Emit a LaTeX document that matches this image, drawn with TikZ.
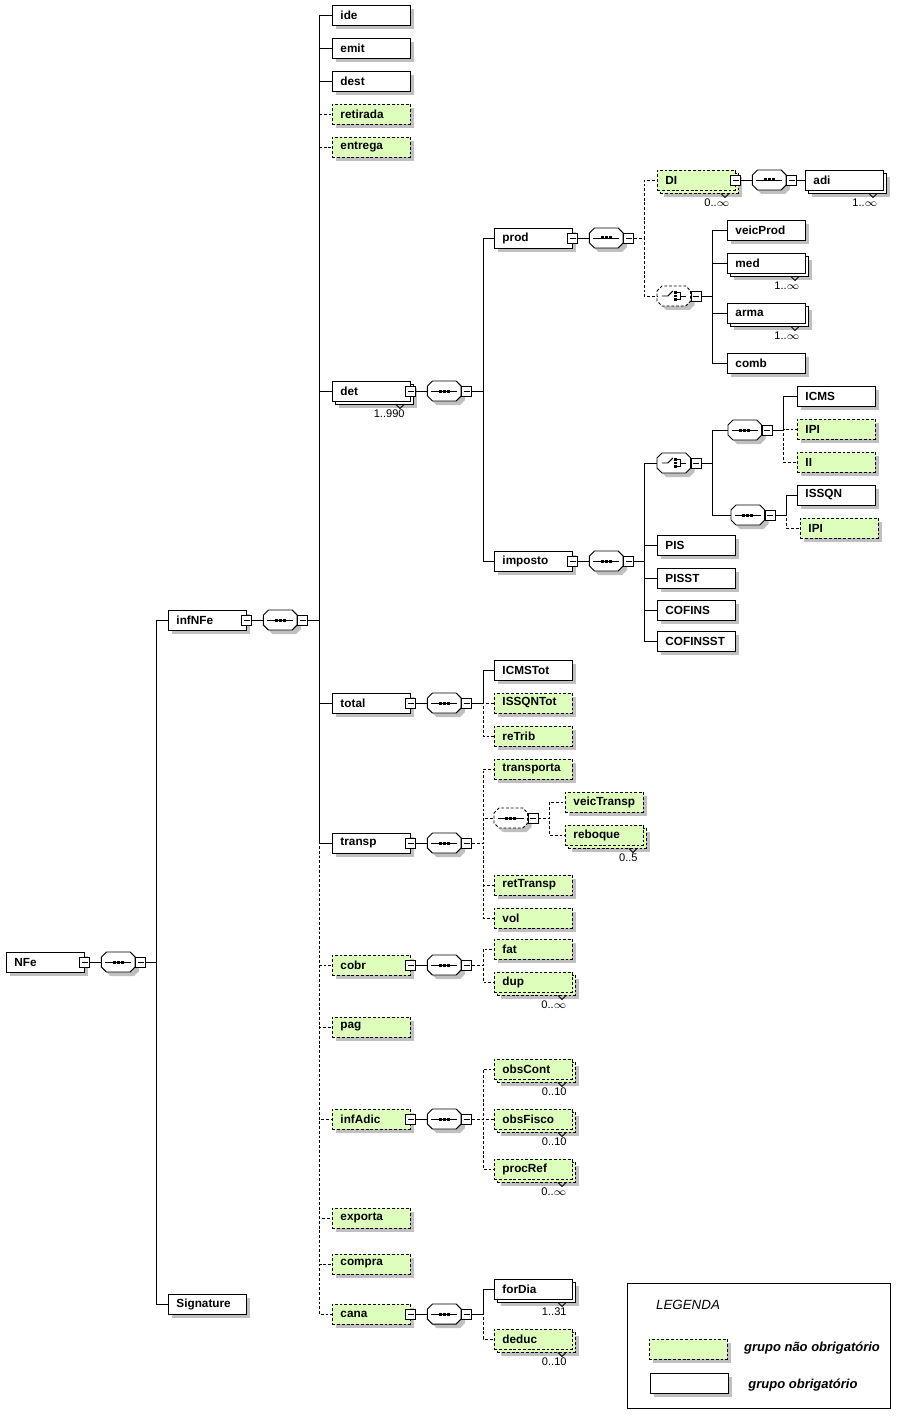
\documentclass[tikz,border=0pt]{standalone}
\usepackage{fontspec}
\setmainfont{Liberation Sans}
\usetikzlibrary{positioning,shadows}

\definecolor{optgreen}{RGB}{221,255,187}
\definecolor{shadowgray}{RGB}{192,192,192}

\tikzset{
	link/.style={line width=0.55pt},
	optdash/.style={dash pattern=on 1.6pt off 1.1pt},
	optlink/.style={link, optdash},
	boxbase/.style={rectangle, draw, line width=0.55pt, anchor=west,
		minimum height=0.4cm, text width=1.24cm, inner xsep=0.16cm, inner ysep=0pt,
		align=left, font=\bfseries\fontsize{6.7}{8}\selectfont},
	boxshadow/.style={drop shadow={shadow xshift=0.08cm, shadow yshift=-0.08cm,
		fill=shadowgray, draw=none, opacity=1}},
	multishadow/.style={drop shadow={shadow xshift=0.14cm, shadow yshift=-0.14cm,
		fill=shadowgray, draw=none, opacity=1}},
	elem/.style={boxbase, fill=white, boxshadow},
	optelem/.style={boxbase, optdash, fill=optgreen, boxshadow},
	multi/.style={boxbase, fill=white, multishadow,
		copy shadow={shadow xshift=0.06cm, shadow yshift=-0.06cm, draw=black, fill=white, solid}},
	optmulti/.style={boxbase, optdash, fill=optgreen, multishadow,
		copy shadow={shadow xshift=0.06cm, shadow yshift=-0.06cm, draw=black, fill=optgreen, optdash}},
	seqbox/.style={rectangle, anchor=west, minimum width=0.66cm, minimum height=0.4cm, inner sep=0pt},
	minusbox/.style={rectangle, draw, fill=white, line width=0.55pt, solid,
		minimum size=0.2cm, inner sep=0pt,
		path picture={\draw[black, solid] ([xshift=0.04cm]path picture bounding box.west)
			-- ([xshift=-0.04cm]path picture bounding box.east);}},
	card/.style={inner sep=0pt, font=\fontsize{6.3}{7}\selectfont},
	lgtext/.style={font=\bfseries\itshape\fontsize{7.4}{9}\selectfont}
}

% octagon round a sequence/choice node, shifted by (#2,#3)
\newcommand\octpath[3]{([shift={(#2,#3-5)}]#1.west) -- ([shift={(#2+5,#3-10)}]#1.west)
	-- ([shift={(#2-5,#3-10)}]#1.east) -- ([shift={(#2,#3-5)}]#1.east)
	-- ([shift={(#2,#3+5)}]#1.east) -- ([shift={(#2-5,#3+10)}]#1.east)
	-- ([shift={(#2+5,#3+10)}]#1.west) -- ([shift={(#2,#3+5)}]#1.west) -- cycle}
\newcommand\seqsym[2]{%
	\fill[shadowgray] \octpath{#1}{4}{4};
	\filldraw[#2, fill=white] \octpath{#1}{0}{0};
	\draw[link] ([shift={(4,0)}]#1.west) -- ([shift={(-4,0)}]#1.east);
	\foreach \d in {-4,0,4}
		\fill ([shift={(\d-1.5,-1.5)}]#1.center) rectangle ++(3,3);}
\newcommand\choicesym[2]{%
	\fill[shadowgray] \octpath{#1}{4}{4};
	\filldraw[#2, fill=white] \octpath{#1}{0}{0};
	\draw[link] ([shift={(-12,0)}]#1.center) -- ++(6,0) -- ++(5,-5);
	\foreach \d in {-3.3,0,3.3}
		\fill ([shift={(0.2,\d-1.4)}]#1.center) rectangle ++(2.8,2.8);
	\draw[link] ([shift={(3,-3.3)}]#1.center) -- ++(4,0) -- ++(0,6.6) -- ++(-4,0);
	\draw[link] ([shift={(7,0)}]#1.center) -- ++(5,0);}

\begin{document}
\begin{tikzpicture}[x=0.02cm, y=-0.02cm]
	\useasboundingbox (0,0) rectangle (905,1422);

	% root and first level
	\node[elem] (NFe) at (6,962) {NFe};
	\node[elem] (infNFe) at (168,620) {infNFe};
	\node[elem] (Signature) at (168,1304) {Signature};

	% children of infNFe
	\node[elem] (ide) at (332,15) {ide};
	\node[elem] (emit) at (332,48) {emit};
	\node[elem] (dest) at (332,81) {dest};
	\node[optelem] (retirada) at (332,114) {retirada};
	\node[optelem] (entrega) at (332,147) {entrega};
	\node[multi] (det) at (332,391) {det};
	\node[elem] (total) at (332,703) {total};
	\node[elem] (transp) at (332,843) {transp};
	\node[optelem] (cobr) at (332,965) {cobr};
	\node[optelem] (pag) at (332,1027) {pag};
	\node[optelem] (infAdic) at (332,1119) {infAdic};
	\node[optelem] (exporta) at (332,1218) {exporta};
	\node[optelem] (compra) at (332,1264) {compra};
	\node[optelem] (cana) at (332,1314) {cana};

	% third level
	\node[elem] (prod) at (494,238) {prod};
	\node[elem] (imposto) at (494,561) {imposto};
	\node[elem] (ICMSTot) at (494,670) {ICMSTot};
	\node[optelem] (ISSQNTot) at (494,703) {ISSQNTot};
	\node[optelem] (reTrib) at (494,736) {reTrib};
	\node[optelem] (transporta) at (494,769) {transporta};
	\node[seqbox] (sVeic) at (494,818) {};
	\node[optelem] (retTransp) at (494,885) {retTransp};
	\node[optelem] (vol) at (494,918) {vol};
	\node[optelem] (fat) at (494,949) {fat};
	\node[optmulti] (dup) at (494,982) {dup};
	\node[optmulti] (obsCont) at (494,1069) {obsCont};
	\node[optmulti] (obsFisco) at (494,1119) {obsFisco};
	\node[optmulti] (procRef) at (494,1169) {procRef};
	\node[multi] (forDia) at (494,1289) {forDia};
	\node[optmulti] (deduc) at (494,1339) {deduc};
	\node[optelem] (veicTransp) at (565,802) {veicTransp};
	\node[optmulti] (reboque) at (565,835) {reboque};

	% prod and imposto branches
	\node[optmulti] (DI) at (657,180) {DI};
	\node[multi] (adi) at (805,180) {adi};
	\node[seqbox] (cProd) at (657,296) {};
	\node[elem] (veicProd) at (727,230) {veicProd};
	\node[multi] (med) at (727,263) {med};
	\node[multi] (arma) at (727,313) {arma};
	\node[elem] (comb) at (727,363) {comb};
	\node[seqbox] (cImp) at (657,463) {};
	\node[elem] (PIS) at (657,545) {PIS};
	\node[elem] (PISST) at (657,578) {PISST};
	\node[elem] (COFINS) at (657,610) {COFINS};
	\node[elem] (COFINSST) at (657,641) {COFINSST};
	\node[seqbox] (sICMS) at (728,430) {};
	\node[seqbox] (sISS) at (731,515) {};
	\node[elem] (ICMS) at (797,396) {ICMS};
	\node[optelem] (IPI) at (797,429) {IPI};
	\node[optelem] (II) at (797,462) {II};
	\node[elem] (ISSQN) at (797,495) {ISSQN};
	\node[optelem] (IPIb) at (800,528) {IPI};

	% minus boxes and sequences after the groups
	\foreach \g in {NFe,infNFe,det,total,transp,cobr,infAdic,cana,prod,imposto,DI} {
		\node[minusbox] (m\g) at (\g.east) {};
		\node[seqbox, right=0.22cm of m\g] (s\g) {};
		\seqsym{s\g}{link}
		\node[minusbox, anchor=west] (t\g) at (s\g.east) {};
		\draw[link] (m\g.east) -- (s\g.west);
	}
	\seqsym{sVeic}{optlink}
	\choicesym{cProd}{optlink}
	\choicesym{cImp}{link}
	\seqsym{sICMS}{link}
	\seqsym{sISS}{link}
	\foreach \g in {sVeic,cProd,cImp,sICMS,sISS}
		\node[minusbox, anchor=west] (t\g) at (\g.east) {};

	% connectors
	\foreach \c in {infNFe,Signature}
		\draw[link] (tNFe.east) -- ++(10,0) |- (\c.west);
	\foreach \c in {ide,emit,dest,det,total,transp}
		\draw[link] (tinfNFe.east) -- ++(11,0) |- (\c.west);
	\foreach \c in {retirada,entrega,cobr,pag,infAdic,exporta,compra,cana}
		\draw[optlink] (tinfNFe.east) -- ++(11,0) |- (\c.west);
	\foreach \c in {prod,imposto}
		\draw[link] (tdet.east) -- ++(11,0) |- (\c.west);
	\foreach \c in {DI,cProd}
		\draw[optlink] (tprod.east) -- ++(10,0) |- (\c.west);
	\draw[link] (tDI.east) -- (adi.west);
	\foreach \c in {veicProd,med,arma,comb}
		\draw[link] (tcProd.east) -- ++(11,0) |- (\c.west);
	\foreach \c in {cImp,PIS,PISST,COFINS,COFINSST}
		\draw[link] (timposto.east) -- ++(10,0) |- (\c.west);
	\foreach \c in {sICMS,sISS}
		\draw[link] (tcImp.east) -- ++(11,0) |- (\c.west);
	\draw[link] (tsICMS.east) -- ++(11,0) |- (ICMS.west);
	\foreach \c in {IPI,II}
		\draw[optlink] (tsICMS.east) -- ++(11,0) |- (\c.west);
	\draw[link] (tsISS.east) -- ++(11,0) |- (ISSQN.west);
	\draw[optlink] (tsISS.east) -- ++(11,0) |- (IPIb.west);
	\draw[link] (ttotal.east) -- ++(11,0) |- (ICMSTot.west);
	\foreach \c in {ISSQNTot,reTrib}
		\draw[optlink] (ttotal.east) -- ++(11,0) |- (\c.west);
	\foreach \c in {transporta,sVeic,retTransp,vol}
		\draw[optlink] (ttransp.east) -- ++(11,0) |- (\c.west);
	\foreach \c in {veicTransp,reboque}
		\draw[optlink] (tsVeic.east) -- ++(11,0) |- (\c.west);
	\foreach \c in {fat,dup}
		\draw[optlink] (tcobr.east) -- ++(11,0) |- (\c.west);
	\foreach \c in {obsCont,obsFisco,procRef}
		\draw[optlink] (tinfAdic.east) -- ++(11,0) |- (\c.west);
	\draw[link] (tcana.east) -- ++(11,0) |- (forDia.west);
	\draw[optlink] (tcana.east) -- ++(11,0) |- (deduc.west);

	% occurrence notches and labels
	\foreach \n/\c in {det/1..990, DI/0..$\infty$, adi/1..$\infty$, med/1..$\infty$,
			arma/1..$\infty$, reboque/0..5, dup/0..$\infty$, obsCont/0..10,
			obsFisco/0..10, procRef/0..$\infty$, forDia/1..31, deduc/0..10} {
		\draw[link] ([shift={(-15,3)}]\n.south east) -- ++(4,4) -- ++(4,-4);
		\node[card, anchor=north east] (k\n) at ([shift={(-6,8)}]\n.south east) {\c};
	}

	% legend
	\draw[link] (627,1283) rectangle (890,1408);
	\node[font=\itshape\fontsize{7.6}{9}\selectfont] (lgTitle) at (688,1305) {LEGENDA};
	\node[optelem] (lgOpt) at (649,1349) {};
	\node[elem] (lgReq) at (650,1383) {};
	\node[lgtext] (lgOptText) at (812,1348) {grupo não obrigatório};
	\node[lgtext] (lgReqText) at (803,1385) {grupo obrigatório};
\end{tikzpicture}
\end{document}
